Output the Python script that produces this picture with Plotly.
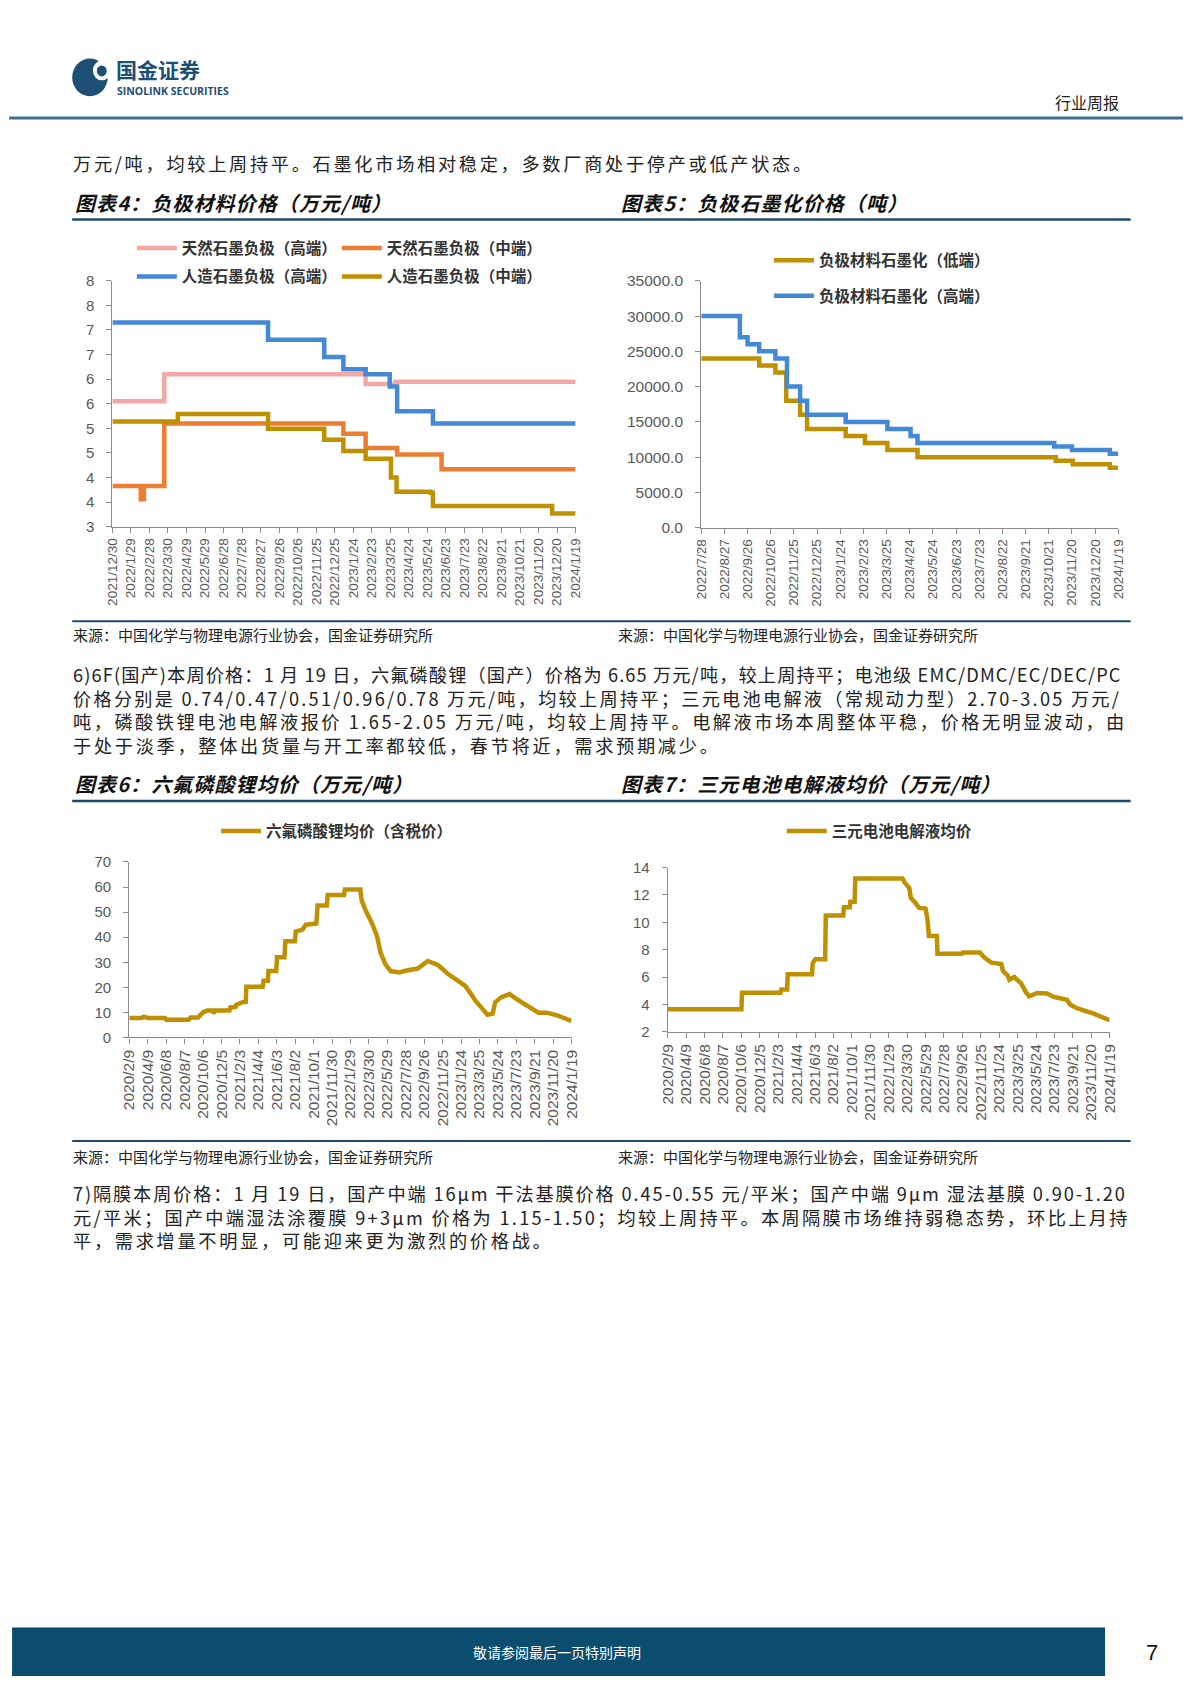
import plotly.graph_objects as go
import pandas as pd

# page is 1191 x 1684; the browser keeps an 8px body margin, so the figure is
# sized to fill the page exactly inside that margin
PAGE_W, PAGE_H = 1191, 1684
OFF = 8
FW, FH = PAGE_W - 2 * OFF, PAGE_H - 2 * OFF


def px(x):
    return (x - OFF) / FW


def py(y):
    return 1 - (y - OFF) / FH


CJK = "Noto Sans CJK SC"
LAT = "Liberation Sans, Arial, sans-serif"

# ---------------- data ----------------
# 图表4 负极材料价格（万元/吨）
ticks4 = ["2021/12/30", "2022/1/29", "2022/2/28", "2022/3/30", "2022/4/29", "2022/5/29",
          "2022/6/28", "2022/7/28", "2022/8/27", "2022/9/26", "2022/10/26", "2022/11/25",
          "2022/12/25", "2023/1/24", "2023/2/23", "2023/3/25", "2023/4/24", "2023/5/24",
          "2023/6/23", "2023/7/23", "2023/8/22", "2023/9/21", "2023/10/21", "2023/11/20",
          "2023/12/20", "2024/1/19"]
nat_hi_dates = ["2021-12-30", "2022-03-24", "2023-02-13", "2023-04-02", "2024-01-19"]
nat_hi_vals = [5.55, 6.10, 5.90, 5.95, 5.95]
nat_mid_dates = ["2021-12-30", "2022-02-14", "2022-02-19", "2022-03-24", "2023-01-08",
                 "2023-02-13", "2023-04-05", "2023-06-16", "2024-01-19"]
nat_mid_vals = [3.83, 3.56, 3.83, 5.10, 4.89, 4.60, 4.47, 4.17, 4.17]
art_hi_dates = ["2021-12-30", "2022-09-08", "2022-12-08", "2023-01-08", "2023-02-13",
                "2023-03-24", "2023-04-05", "2023-06-02", "2024-01-19"]
art_hi_vals = [7.15, 6.80, 6.45, 6.20, 6.10, 5.85, 5.35, 5.10, 5.10]
art_mid_dates = ["2021-12-30", "2022-04-15", "2022-09-08", "2022-12-08", "2023-01-08",
                 "2023-02-13", "2023-03-26", "2023-04-04", "2023-05-29", "2023-06-02",
                 "2023-12-12", "2024-01-19"]
art_mid_vals = [5.14, 5.29, 4.99, 4.77, 4.54, 4.38, 4.00, 3.71, 3.69, 3.42, 3.27, 3.27]
yticks4 = [3, 3.5, 4, 4.5, 5, 5.5, 6, 6.5, 7, 7.5, 8]

# 图表5 负极石墨化价格（吨）
ticks5 = ["2022/7/28", "2022/8/27", "2022/9/26", "2022/10/26", "2022/11/25", "2022/12/25",
          "2023/1/24", "2023/2/23", "2023/3/25", "2023/4/24", "2023/5/24", "2023/6/23",
          "2023/7/23", "2023/8/22", "2023/9/21", "2023/10/21", "2023/11/20", "2023/12/20",
          "2024/1/19"]
gr_lo_dates = ["2022-07-28", "2022-10-11", "2022-11-01", "2022-11-15", "2022-12-03",
               "2022-12-12", "2023-01-31", "2023-02-25", "2023-03-26", "2023-05-04",
               "2023-10-30", "2023-11-21", "2024-01-08", "2024-01-19"]
gr_lo_vals = [24000, 23000, 22000, 18000, 16000, 14000, 13000, 12000, 11000, 10000,
              9500, 9000, 8500, 8500]
gr_hi_dates = ["2022-07-28", "2022-09-16", "2022-09-26", "2022-10-11", "2022-11-01",
               "2022-11-16", "2022-12-03", "2022-12-12", "2023-01-31", "2023-03-26",
               "2023-04-25", "2023-05-04", "2023-10-28", "2023-11-20", "2024-01-08",
               "2024-01-19"]
gr_hi_vals = [30000, 27000, 26000, 25000, 24000, 20000, 18000, 16000, 15000, 14000,
              13000, 12000, 11500, 11000, 10500, 10500]

# 图表6/7 shared date ticks
ticks67 = ["2020/2/9", "2020/4/9", "2020/6/8", "2020/8/7", "2020/10/6", "2020/12/5",
           "2021/2/3", "2021/4/4", "2021/6/3", "2021/8/2", "2021/10/1", "2021/11/30",
           "2022/1/29", "2022/3/30", "2022/5/29", "2022/7/28", "2022/9/26", "2022/11/25",
           "2023/1/24", "2023/3/25", "2023/5/24", "2023/7/23", "2023/9/21", "2023/11/20",
           "2024/1/19"]

# 图表6 六氟磷酸锂均价（含税价）
lipf6_dates = ["2020-02-09", "2020-03-20", "2020-03-27", "2020-04-10", "2020-06-04",
               "2020-06-08", "2020-08-20", "2020-08-27", "2020-09-20", "2020-09-27",
               "2020-10-06", "2020-10-20", "2020-11-06", "2020-11-10", "2020-11-14",
               "2020-12-31", "2021-01-03", "2021-01-20", "2021-01-22", "2021-02-10",
               "2021-02-22", "2021-02-24", "2021-04-18", "2021-04-21", "2021-05-05",
               "2021-05-07", "2021-06-01", "2021-06-04", "2021-06-28", "2021-07-01",
               "2021-08-01", "2021-08-04", "2021-08-25", "2021-09-06", "2021-10-10",
               "2021-10-14", "2021-11-13", "2021-11-16", "2022-01-08", "2022-01-11",
               "2022-03-02", "2022-03-06", "2022-03-18", "2022-04-09", "2022-04-26",
               "2022-05-07", "2022-05-23", "2022-06-09", "2022-07-07", "2022-07-23",
               "2022-09-05", "2022-10-08", "2022-11-11", "2022-12-14", "2023-01-16",
               "2023-02-07", "2023-03-01", "2023-03-12", "2023-04-04", "2023-04-20",
               "2023-05-07", "2023-05-15", "2023-06-03", "2023-07-01", "2023-07-23",
               "2023-08-20", "2023-09-16", "2023-10-03", "2023-10-30", "2023-12-03",
               "2024-01-19"]
lipf6_vals = [7.8, 7.8, 8.3, 7.8, 7.8,
              7.1, 7.1, 8.0, 8.0, 9.2,
              10.0, 10.8, 10.8, 9.6, 10.8,
              10.8, 12.0, 12.2, 13.0, 14.0,
              14.2, 20.2, 20.2, 22.6, 22.6,
              26.5, 26.5, 32.0, 32.0, 38.4,
              38.4, 42.3, 43.0, 45.0, 45.5,
              52.6, 52.6, 56.8, 56.8, 59.0,
              59.0, 55.0, 51.0, 45.6, 40.3,
              33.8, 29.2, 26.5, 25.9, 26.5,
              27.5, 30.5, 28.8, 25.2, 22.6,
              20.6, 16.7, 14.7, 11.4, 9.1,
              9.5, 14.0, 16.0, 17.3, 15.4,
              13.4, 11.4, 9.9, 9.9, 8.8,
              6.6]

# 图表7 三元电池电解液均价
elec_dates = ["2020-02-09", "2020-10-06", "2020-10-08", "2021-02-10", "2021-02-13",
              "2021-03-04", "2021-03-06", "2021-05-24", "2021-05-26", "2021-06-04",
              "2021-07-06", "2021-07-08", "2021-09-03", "2021-09-05", "2021-09-24",
              "2021-09-26", "2021-10-10", "2021-10-12", "2022-03-15", "2022-03-22",
              "2022-04-06", "2022-04-11", "2022-04-27", "2022-05-08", "2022-05-29",
              "2022-06-04", "2022-06-09", "2022-07-05", "2022-07-07", "2022-09-24",
              "2022-09-28", "2022-11-22", "2022-12-08", "2022-12-30", "2023-01-31",
              "2023-02-05", "2023-02-21", "2023-02-26", "2023-03-14", "2023-04-05",
              "2023-04-21", "2023-05-02", "2023-05-28", "2023-06-29", "2023-07-21",
              "2023-09-02", "2023-09-12", "2023-10-04", "2023-11-05", "2023-11-26",
              "2024-01-08", "2024-01-19"]
elec_vals = [3.65, 3.65, 4.85, 4.85, 5.1,
             5.1, 6.2, 6.2, 7.0, 7.3,
             7.3, 10.5, 10.5, 11.1, 11.1,
             11.5, 11.5, 13.2, 13.2, 12.9,
             12.5, 11.8, 11.4, 11.05, 11.0,
             10.3, 9.0, 9.0, 7.7, 7.7,
             7.8, 7.8, 7.4, 7.05, 6.95,
             6.45, 6.1, 5.8, 6.0, 5.55,
             4.9, 4.6, 4.84, 4.8, 4.55,
             4.35, 4.0, 3.73, 3.5, 3.35,
             2.95, 2.85]

# page texts
top_line = "万元/吨，均较上周持平。石墨化市场相对稳定，多数厂商处于停产或低产状态。"
para6 = ["6)6F(国产)本周价格：1 月 19 日，六氟磷酸锂（国产）价格为 6.65 万元/吨，较上周持平；电池级 EMC/DMC/EC/DEC/PC",
         "价格分别是 0.74/0.47/0.51/0.96/0.78 万元/吨，均较上周持平；三元电池电解液（常规动力型）2.70-3.05 万元/",
         "吨，磷酸铁锂电池电解液报价 1.65-2.05 万元/吨，均较上周持平。电解液市场本周整体平稳，价格无明显波动，由",
         "于处于淡季，整体出货量与开工率都较低，春节将近，需求预期减少。"]
para7 = ["7)隔膜本周价格：1 月 19 日，国产中端 16μm 干法基膜价格 0.45-0.55 元/平米；国产中端 9μm 湿法基膜 0.90-1.20",
         "元/平米；国产中端湿法涂覆膜 9+3μm 价格为 1.15-1.50；均较上周持平。本周隔膜市场维持弱稳态势，环比上月持",
         "平，需求增量不明显，可能迎来更为激烈的价格战。"]
titles = ["图表4：负极材料价格（万元/吨）", "图表5：负极石墨化价格（吨）",
          "图表6：六氟磷酸锂均价（万元/吨）", "图表7：三元电池电解液均价（万元/吨）"]
source = "来源：中国化学与物理电源行业协会，国金证券研究所"

# ---------------- styles ----------------
PINK = "#F3A7A7"
ORANGE = "#ED7D31"
BLUE = "#4389D6"
GOLD = "#BF9000"
AXC = "#8C8C8C"
TICKC = "#595959"
NAVY = "#1E4A6A"
LW = 4.5

fig = go.Figure()


def line(x, y, color, name, xa, ya, leg, shape="hv"):
    fig.add_trace(go.Scatter(x=x, y=y, mode="lines", name=name,
                             line=dict(color=color, width=LW, shape=shape),
                             xaxis=xa, yaxis=ya, legend=leg, hoverinfo="skip"))


line(nat_hi_dates, nat_hi_vals, PINK, "天然石墨负极（高端）", "x", "y", "legend")
line(nat_mid_dates, nat_mid_vals, ORANGE, "天然石墨负极（中端）", "x", "y", "legend")
line(art_hi_dates, art_hi_vals, BLUE, "人造石墨负极（高端）", "x", "y", "legend2")
line(art_mid_dates, art_mid_vals, GOLD, "人造石墨负极（中端）", "x", "y", "legend2")
line(gr_lo_dates, gr_lo_vals, GOLD, "负极材料石墨化（低端）", "x2", "y2", "legend3")
line(gr_hi_dates, gr_hi_vals, BLUE, "负极材料石墨化（高端）", "x2", "y2", "legend4")
line(lipf6_dates, lipf6_vals, GOLD, "六氟磷酸锂均价（含税价）", "x3", "y3", "legend5", "linear")
line(elec_dates, elec_vals, GOLD, "三元电池电解液均价", "x4", "y4", "legend6", "linear")


def to_dates(labels):
    return list(pd.to_datetime(labels, format="%Y/%m/%d").strftime("%Y-%m-%d"))


base_ax = dict(showline=True, linecolor=AXC, linewidth=1.3, ticks="outside", ticklen=5,
               tickcolor=AXC, tickwidth=1.2, showgrid=False, zeroline=False, fixedrange=True)


def xaxis(labels, dom, anchor, size):
    tv = to_dates(labels)
    return dict(base_ax, type="date", domain=dom, anchor=anchor, range=[tv[0], tv[-1]],
                tickmode="array", tickvals=tv, ticktext=labels, tickangle=-90,
                tickfont=dict(family=LAT, size=size, color=TICKC))


def yaxis(dom, anchor, rng, **kw):
    d = dict(base_ax, domain=dom, anchor=anchor, range=rng, ticklabelstandoff=9,
             tickfont=dict(family=LAT, size=15, color=TICKC))
    d.update(kw)
    return d


layout = dict(
    width=FW, height=FH, margin=dict(l=0, r=0, t=0, b=0),
    paper_bgcolor="white", plot_bgcolor="white", showlegend=True,
    xaxis=xaxis(ticks4, [px(104.8), px(574.8)], "y", 13.5),
    yaxis=yaxis([py(523), py(274.5)], "x", [3, 8], tickmode="array", tickvals=yticks4,
                ticktext=[str(int(v + 0.5)) for v in yticks4]),
    xaxis2=xaxis(ticks5, [px(702.3), px(1125.5)], "y2", 13.5),
    yaxis2=yaxis([py(524), py(274.5)], "x2", [0, 35000], dtick=5000, tickformat=".1f",
                 tickfont=dict(family=LAT, size=15.5, color=TICKC)),
    xaxis3=xaxis(ticks67, [px(122), px(570.7)], "y3", 15.5),
    yaxis3=yaxis([py(1039), py(861.7)], "x3", [0, 70], dtick=10),
    xaxis4=xaxis(ticks67, [px(668.3), px(1116.7)], "y4", 15.5),
    yaxis4=yaxis([py(1033.3), py(867.3)], "x4", [2, 14], dtick=2),
)

leg_base = dict(orientation="h", xanchor="left", yanchor="middle", bgcolor="rgba(0,0,0,0)",
                borderwidth=0, itemwidth=40,
                font=dict(family=CJK, size=15.5, color="#333333", weight="bold"))
layout["legend"] = dict(leg_base, x=px(124.5), y=py(241.7), entrywidth=150, entrywidthmode="pixels")
layout["legend2"] = dict(leg_base, x=px(124.5), y=py(270.5), entrywidth=150, entrywidthmode="pixels")
layout["legend3"] = dict(leg_base, x=px(771), y=py(254.3))
layout["legend4"] = dict(leg_base, x=px(771), y=py(290))
layout["legend5"] = dict(leg_base, x=px(210), y=py(830.7))
layout["legend6"] = dict(leg_base, x=px(784), y=py(830.7))
fig.update_layout(**layout)

# ---------------- page decorations ----------------
shapes = []
ann = []


def hline(y, x0, x1, color, w):
    shapes.append(dict(type="line", xref="paper", yref="paper", x0=px(x0), x1=px(x1),
                       y0=py(y), y1=py(y), line=dict(color=color, width=w)))


def text(x, y, s, size, color="#222222", anchor="left", weight="normal", style="normal",
         family=CJK):
    ann.append(dict(x=px(x), y=py(y), xref="paper", yref="paper", text=s, showarrow=False,
                    xanchor=anchor, yanchor="middle", align="left",
                    font=dict(family=family, size=size, color=color, weight=weight, style=style)))


def em_width(s):
    w = 0.0
    for ch in s:
        if ord(ch) >= 0x2E80 or ch in "，。；：（）":
            w += 1.0
        elif ch.isdigit() or ch in "+":
            w += 0.57
        elif ch == " ":
            w += 0.25
        elif ch == ".":
            w += 0.29
        elif ch == "/":
            w += 0.39
        elif ch in "-()":
            w += 0.37
        elif ch.isupper():
            w += 0.66
        elif ch == "μ":
            w += 0.75
        else:
            w += 0.57
    return w


BODY = 18.2          # 1.3 line spacing -> ~23.7 px, like the page
PITCH_LS = 2.7       # extra tracking so CJK pitch matches the page
FULL_W = 1058        # justified line width


def spaced(s, justify):
    ls = PITCH_LS
    if justify:
        ls = (FULL_W - em_width(s) * BODY) / len(s)
        ls = max(0.0, min(ls, 4.0))
    return "<span style='letter-spacing:%.2fpx'>%s</span>" % (ls, s)


def paragraph(lines, y_center):
    body = "<br>".join(spaced(s, i < len(lines) - 1) for i, s in enumerate(lines))
    text(63, y_center, body, BODY)


# header
hline(110, 0, PAGE_W, "#41708B", 3)
shapes.append(dict(type="circle", xref="paper", yref="paper", x0=px(64), x1=px(100),
                   y0=py(88), y1=py(50), fillcolor="#1B4F74", line=dict(width=0)))
shapes.append(dict(type="circle", xref="paper", yref="paper", x0=px(85), x1=px(103),
                   y0=py(72), y1=py(52), fillcolor="white", line=dict(width=0)))
shapes.append(dict(type="circle", xref="paper", yref="paper", x0=px(89), x1=px(99),
                   y0=py(68), y1=py(57), fillcolor="#1B4F74", line=dict(width=0)))
text(106, 61, "国金证券", 21, "#1B4F74", weight="bold")
text(107, 82.5, "SINOLINK SECURITIES", 10.5, "#1B4F74", weight="bold", family="Open Sans")
text(1128, 94, "行业周报", 16, "#222222", anchor="right")

# body text
text(63, 155.5, spaced(top_line, False), BODY)
paragraph(para6, 707.8)
paragraph(para7, 1219.5)


def title(x, y, s):
    text(x, y, "<span style='letter-spacing:1.1px'>%s</span>" % s, 20, "#111111",
         weight="bold", style="italic")


# chart titles and rules
title(65, 195, titles[0])
title(619, 195, titles[1])
hline(212.5, 64, 1138, NAVY, 2.5)
title(65, 782, titles[2])
title(619, 782, titles[3])
hline(800, 64, 1138, NAVY, 2.5)

# sources
hline(618.5, 64, 1138, NAVY, 2)
text(63, 631.5, source, 15, "#222222")
text(616, 631.5, source, 15, "#222222")
hline(1143.5, 64, 1138, NAVY, 2)
text(63, 1159, source, 15, "#222222")
text(616, 1159, source, 15, "#222222")

# footer
shapes.append(dict(type="rect", xref="paper", yref="paper", x0=px(3), x1=px(1112),
                   y0=py(PAGE_H), y1=py(1635), fillcolor="#0B4D6F", line=dict(width=0)))
text(556, 1660, "敬请参阅最后一页特别声明", 14, "white", anchor="center")
text(1160, 1660, "7", 22, "#111111", anchor="center", family=LAT)

fig.update_layout(shapes=shapes, annotations=ann)
fig.write_html("out.html", config={"displayModeBar": False})
